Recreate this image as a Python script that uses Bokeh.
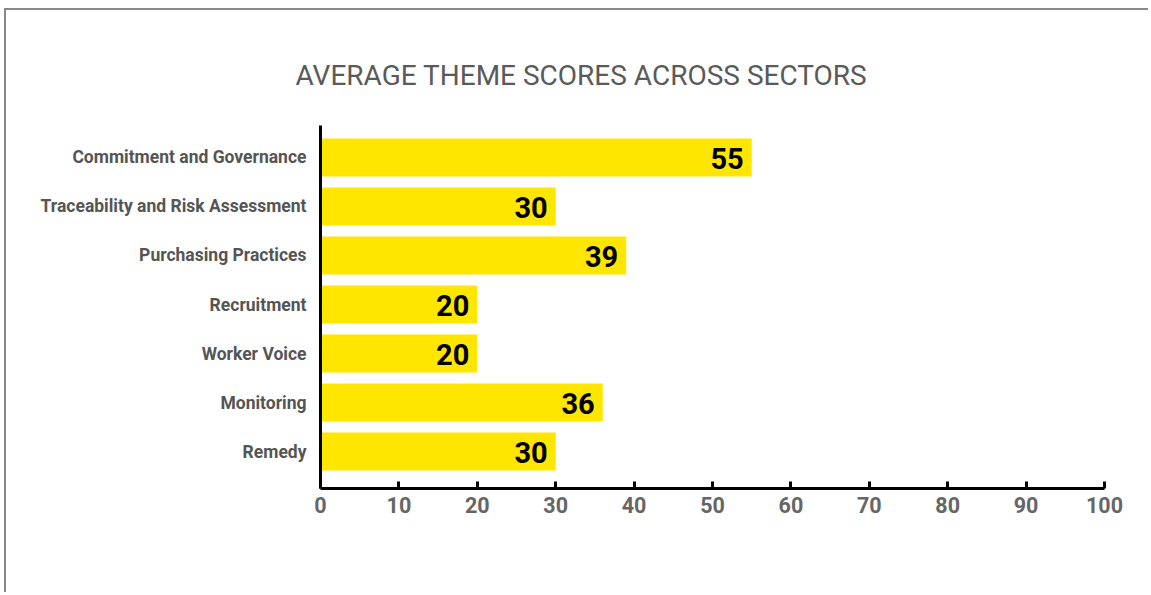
from bokeh.plotting import figure
from bokeh.models import Range1d, FixedTicker, ColumnDataSource
from bokeh.core.properties import value
from bokeh.embed import file_html
from bokeh.resources import INLINE

themes = ["Commitment and Governance", "Traceability and Risk Assessment",
          "Purchasing Practices", "Recruitment", "Worker Voice", "Monitoring", "Remedy"]
scores = [55, 30, 39, 20, 20, 36, 30]
x_ticks = [0, 10, 20, 30, 40, 50, 60, 70, 80, 90, 100]

n = len(themes)
ypos = [n - 1 - i for i in range(n)]
src = ColumnDataSource(dict(y=ypos, score=scores, label=[str(s) for s in scores]))

p = figure(width=1144, height=584, output_backend="svg", toolbar_location=None,
           x_range=Range1d(0, 100), y_range=Range1d(-0.755, 6.653),
           min_border_left=314, min_border_right=46, min_border_top=115, min_border_bottom=106)
p.styles = {"border-top": "2px solid #888888", "border-left": "2px solid #888888",
            "margin-left": "4px", "margin-top": "8px"}

p.title.text = "AVERAGE THEME SCORES ACROSS SECTORS"
p.title.text_font = "Roboto"
p.title.text_font_style = "normal"
p.title.text_font_size = "28px"
p.title.text_color = "#5a5a5a"
p.title.align = "left"
p.title.offset = -25
p.title.standoff = 68

p.hbar(y="y", right="score", left=0, height=0.775, source=src, color="#FFE600", line_color=None)
p.text(x="score", y="y", text="label", source=src, x_offset=-8, y_offset=1,
       text_align="right", text_baseline="middle", text_font=value("Roboto"),
       text_font_style="bold", text_font_size="29px", text_color="#000000")

p.outline_line_color = None
p.grid.visible = False

xa = p.xaxis[0]
xa.ticker = FixedTicker(ticks=x_ticks)
xa.axis_line_width = 3
xa.axis_line_color = "#000000"
xa.major_tick_in = 7
xa.major_tick_out = 0
xa.major_tick_line_width = 3
xa.major_tick_line_color = "#000000"
xa.minor_tick_line_color = None
xa.major_label_text_font = "Roboto"
xa.major_label_text_font_style = "bold"
xa.major_label_text_font_size = "21.5px"
xa.major_label_text_color = "#666666"
xa.major_label_standoff = 8

ya = p.yaxis[0]
ya.ticker = FixedTicker(ticks=ypos)
ya.major_label_overrides = {y: t for y, t in zip(ypos, themes)}
ya.axis_line_width = 3
ya.axis_line_color = "#000000"
ya.major_tick_line_color = None
ya.minor_tick_line_color = None
ya.major_tick_in = 0
ya.major_tick_out = 0
ya.major_label_text_font = "Roboto"
ya.major_label_text_font_style = "bold"
ya.major_label_text_font_size = "17.5px"
ya.major_label_text_color = "#555555"
ya.major_label_standoff = 14

open("out.html", "w").write(file_html(p, INLINE))
